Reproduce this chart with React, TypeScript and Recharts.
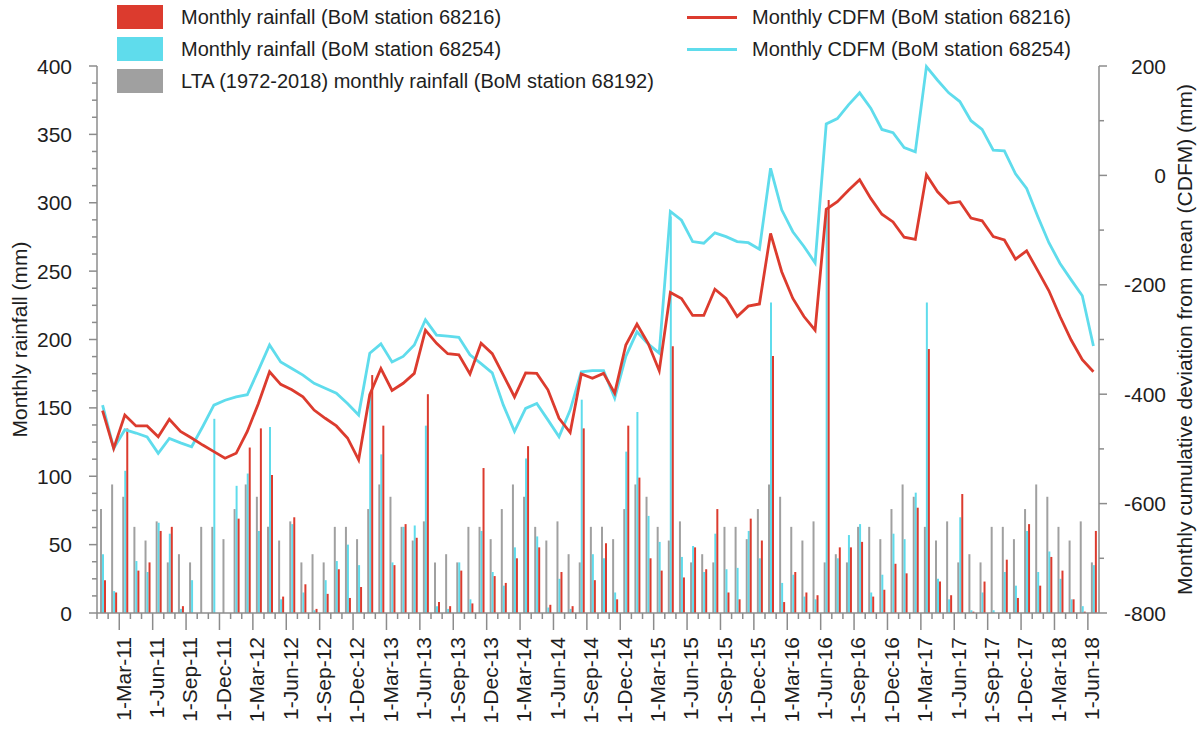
import React from 'react';
import { ComposedChart, Bar, Line, XAxis, YAxis } from 'recharts';

// categories: Jan-11 .. Jun-18
const monthNames = ['Jan', 'Feb', 'Mar', 'Apr', 'May', 'Jun', 'Jul', 'Aug', 'Sep', 'Oct', 'Nov', 'Dec'];
const years = ['11', '12', '13', '14', '15', '16', '17', '18'];
const months = years.flatMap((y) => monthNames.map((m) => `1-${m}-${y}`)).slice(0, 90);

// monthly rainfall (mm)
const rain68216 = [
  24, 15, 135, 31, 37, 60, 63, 5, 0, 0, 0, 0,
  69, 121, 135, 101, 12, 70, 21, 3, 14, 32, 11, 19,
  174, 137, 35, 65, 55, 160, 8, 5, 31, 7, 106, 27,
  22, 40, 122, 48, 6, 30, 5, 135, 24, 51, 10, 137,
  99, 40, 31, 195, 26, 48, 32, 76, 15, 10, 69, 53,
  188, 8, 30, 15, 13, 302, 48, 48, 52, 12, 17, 36,
  29, 77, 193, 23, 13, 87, 1, 23, 0, 39, 11, 65,
  20, 41, 31, 10, 1, 60,
];
const rain68254 = [
  43, 16, 104, 38, 30, 66, 58, 3, 24, 0, 142, 0,
  93, 102, 60, 136, 10, 65, 15, 2, 24, 38, 50, 35,
  160, 116, 37, 63, 64, 137, 5, 3, 37, 10, 60, 30,
  20, 48, 113, 56, 4, 25, 3, 156, 43, 40, 15, 118,
  147, 71, 52, 290, 41, 49, 30, 58, 32, 33, 60, 40,
  227, 22, 28, 12, 10, 295, 40, 57, 65, 15, 28, 58,
  54, 88, 227, 25, 10, 70, 2, 15, 2, 30, 20, 60,
  30, 45, 25, 10, 5, 35,
];
const lta68192 = [
  76, 94, 85, 63, 53, 67, 37, 43, 37, 63, 63, 54,
  76, 94, 85, 63, 53, 67, 37, 43, 37, 63, 63, 54,
  76, 94, 85, 63, 53, 67, 37, 43, 37, 63, 63, 54,
  76, 94, 85, 63, 53, 67, 43, 37, 63, 63, 54, 76,
  94, 85, 63, 53, 67, 37, 43, 37, 63, 63, 54, 76,
  94, 85, 63, 53, 67, 37, 43, 37, 63, 63, 54, 76,
  94, 85, 63, 53, 67, 37, 43, 37, 63, 63, 54, 76,
  94, 85, 63, 53, 67, 37,
];

// monthly CDFM (mm)
const cdfm68216 = [
  -430, -499, -438, -458, -458, -478, -446, -468, -480, -493, -505, -517,
  -508, -468, -417, -359, -382, -392, -405, -429, -444, -458, -480, -520,
  -401, -353, -393, -380, -362, -283, -307, -326, -328, -363, -307, -326,
  -365, -405, -361, -362, -392, -444, -470, -363, -371, -362, -398, -310,
  -272, -307, -357, -214, -225, -256, -256, -208, -225, -258, -239, -235,
  -106, -176, -225, -258, -283, -62, -48, -27, -8, -42, -71, -85,
  -113, -117, 1, -30, -51, -48, -78, -83, -112, -118, -153, -138,
  -174, -211, -258, -301, -337, -359,
];
const cdfm68254 = [
  -420, -499, -465, -471, -478, -508, -481, -489, -496, -459, -420, -411,
  -405, -401, -356, -310, -341, -353, -365, -380, -389, -398, -417, -438,
  -325, -308, -341, -331, -310, -264, -292, -294, -296, -328, -344, -361,
  -420, -468, -426, -417, -447, -478, -429, -359, -357, -357, -407, -331,
  -286, -308, -325, -66, -82, -121, -124, -105, -112, -121, -123, -135,
  13, -63, -103, -130, -160, 94, 104, 129, 151, 123, 84, 78,
  51, 43, 199, 174, 151, 135, 100, 84, 46, 45, 3, -24,
  -75, -123, -161, -191, -220, -312,
];

const leftLabels = [0, 50, 100, 150, 200, 250, 300, 350, 400];
const rightLabels = [-800, -600, -400, -200, 0, 200];

const data = months.map((month, i) => ({
  month,
  lta: lta68192[i],
  cyan: rain68254[i],
  red: rain68216[i],
  cdfmRed: cdfm68216[i],
  cdfmCyan: cdfm68254[i],
}));

const W = 1202;
const H = 729;
const PLOT_L = 97;
const PLOT_R = 1099;
const PLOT_T = 66;
const PLOT_B = 613;
const BAND = (PLOT_R - PLOT_L) / months.length;

const RED = '#dc3b2e';
const CYAN = '#5fdcec';
const GREY = '#a0a0a0';
const AXIS = '#8c8c8c';
const TXT = '#1e1e1e';
const FONT = '"Liberation Sans", Arial, sans-serif';

const leftTicks = Array.from({ length: 33 }, (_, k) => k * 12.5);
const rightTicks = Array.from({ length: 11 }, (_, k) => -800 + k * 100);

const XTick = (props: any) => {
  const { x, y, payload, index } = props;
  const start = x - BAND / 2;
  const major = index % 3 === 2;
  const lx = start + 4;
  const ly = y + 24;
  return (
    <g>
      <line x1={start} x2={start} y1={y} y2={y + (major ? 17 : 6)} stroke={AXIS} strokeWidth={1.5} />
      {major && (
        <text
          x={lx}
          y={ly}
          dy="0.35em"
          transform={`rotate(-90 ${lx} ${ly})`}
          textAnchor="end"
          fontSize={21}
          fill={TXT}
          fontFamily={FONT}
        >
          {payload.value}
        </text>
      )}
    </g>
  );
};

const LeftTick = (props: any) => {
  const { x, y, payload } = props;
  const v = payload.value;
  const major = leftLabels.includes(v);
  return (
    <g>
      <line x1={x} x2={x - (major ? 8 : 5)} y1={y} y2={y} stroke={AXIS} strokeWidth={1.5} />
      {major && (
        <text x={x - 25} y={y} dy="0.36em" textAnchor="end" fontSize={21} fill={TXT} fontFamily={FONT}>
          {v}
        </text>
      )}
    </g>
  );
};

const RightTick = (props: any) => {
  const { x, y, payload } = props;
  const v = payload.value;
  const major = rightLabels.includes(v);
  return (
    <g>
      <line x1={x} x2={x + (major ? 8 : 5)} y1={y} y2={y} stroke={AXIS} strokeWidth={1.5} />
      {major && (
        <text x={x + 67} y={y} dy="0.36em" textAnchor="end" fontSize={21} fill={TXT} fontFamily={FONT}>
          {v}
        </text>
      )}
    </g>
  );
};

const legendText: React.CSSProperties = {
  position: 'absolute',
  fontFamily: FONT,
  fontSize: 20,
  color: TXT,
  whiteSpace: 'nowrap',
  lineHeight: '24px',
};

export default function App() {
  return (
    <div style={{ position: 'absolute', left: 0, top: 0, width: W, height: H, background: '#fff' }}>
      <ComposedChart
        width={W}
        height={H}
        data={data}
        margin={{ top: PLOT_T, right: 0, bottom: 0, left: 0 }}
        barGap={0}
        barCategoryGap={0}
      >
        <XAxis
          dataKey="month"
          height={H - PLOT_B}
          interval={0}
          tick={<XTick />}
          tickLine={false}
          tickSize={0}
          tickMargin={0}
          axisLine={{ stroke: AXIS, strokeWidth: 1.5 }}
        />
        <YAxis
          yAxisId="left"
          orientation="left"
          width={PLOT_L}
          domain={[0, 400]}
          ticks={leftTicks}
          interval={0}
          tick={<LeftTick />}
          tickLine={false}
          tickSize={0}
          tickMargin={0}
          axisLine={{ stroke: AXIS, strokeWidth: 1.5 }}
        />
        <YAxis
          yAxisId="right"
          orientation="right"
          width={W - PLOT_R}
          domain={[-800, 200]}
          ticks={rightTicks}
          interval={0}
          tick={<RightTick />}
          tickLine={false}
          tickSize={0}
          tickMargin={0}
          axisLine={{ stroke: AXIS, strokeWidth: 1.5 }}
        />
        <Bar yAxisId="left" dataKey="lta" fill={GREY} barSize={2} isAnimationActive={false} />
        <Bar yAxisId="left" dataKey="cyan" fill={CYAN} barSize={2} isAnimationActive={false} />
        <Bar yAxisId="left" dataKey="red" fill={RED} barSize={2} isAnimationActive={false} />
        <Line
          yAxisId="right"
          type="linear"
          dataKey="cdfmCyan"
          stroke={CYAN}
          strokeWidth={2.8}
          dot={false}
          isAnimationActive={false}
        />
        <Line
          yAxisId="right"
          type="linear"
          dataKey="cdfmRed"
          stroke={RED}
          strokeWidth={2.8}
          dot={false}
          isAnimationActive={false}
        />
      </ComposedChart>

      <svg width={W} height={H} style={{ position: 'absolute', left: 0, top: 0, pointerEvents: 'none' }}>
        <text
          x={20}
          y={(PLOT_T + PLOT_B) / 2}
          dy="0.35em"
          transform={`rotate(-90 20 ${(PLOT_T + PLOT_B) / 2})`}
          textAnchor="middle"
          fontSize={21}
          fill={TXT}
          fontFamily={FONT}
        >
          Monthly rainfall (mm)
        </text>
        <text
          x={1185}
          y={(PLOT_T + PLOT_B) / 2}
          dy="0.35em"
          transform={`rotate(-90 1185 ${(PLOT_T + PLOT_B) / 2})`}
          textAnchor="middle"
          fontSize={21}
          fill={TXT}
          fontFamily={FONT}
        >
          Monthly cumulative deviation from mean (CDFM) (mm)
        </text>
      </svg>

      {/* legend */}
      <div style={{ position: 'absolute', left: 117, top: 5, width: 46, height: 24, background: RED }} />
      <div style={{ ...legendText, left: 181, top: 5 }}>Monthly rainfall (BoM station 68216)</div>
      <div style={{ position: 'absolute', left: 117, top: 37, width: 46, height: 24, background: CYAN }} />
      <div style={{ ...legendText, left: 181, top: 37 }}>Monthly rainfall (BoM station 68254)</div>
      <div style={{ position: 'absolute', left: 117, top: 69, width: 46, height: 24, background: GREY }} />
      <div style={{ ...legendText, left: 181, top: 69 }}>LTA (1972-2018) monthly rainfall (BoM station 68192)</div>

      <div style={{ position: 'absolute', left: 687, top: 16, width: 50, height: 2.5, background: RED }} />
      <div style={{ ...legendText, left: 752, top: 5 }}>Monthly CDFM (BoM station 68216)</div>
      <div style={{ position: 'absolute', left: 687, top: 48, width: 50, height: 2.5, background: CYAN }} />
      <div style={{ ...legendText, left: 752, top: 37 }}>Monthly CDFM (BoM station 68254)</div>
    </div>
  );
}
